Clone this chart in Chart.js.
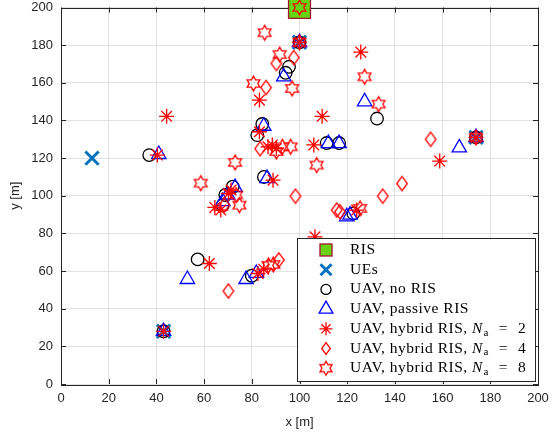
<!DOCTYPE html>
<html>
<head>
<meta charset="utf-8">
<script src="https://cdn.jsdelivr.net/npm/chart.js@4.4.0/dist/chart.umd.min.js"></script>
<style>
  html, body { margin: 0; padding: 0; background: #fff; }
</style>
</head>
<body>
<canvas id="miGrafico" width="552" height="432"></canvas>
<script>
// positions, [x, y] in metres
const risPos = [[100, 200]];
const uePos = [[13, 120], [43, 28], [100, 181.5], [174, 131]];
const uavNoRis = [[37, 121.6], [57.3, 66.2], [80, 57.5], [85.1, 110], [82.3, 132.2], [84.4, 138.1],
  [95.6, 168.5], [94.2, 165.3], [132.5, 141], [72, 104.8], [68.9, 100.4], [67.8, 95],
  [111.4, 128], [116.6, 128], [122.6, 90.6], [100, 181.5], [174, 131], [43, 28]];
const uavPassive = [[41, 122], [53, 55.6], [77.6, 55.6], [81.9, 58.8], [167, 125.5], [127.3, 150],
  [93.4, 163.2], [85, 137], [86.4, 109.2], [112.1, 127.8], [116.6, 127.8], [119.8, 88.9],
  [121.2, 89.8], [73, 104.4], [69.9, 100.4], [67.8, 97], [100, 181.5], [174, 131], [43, 28]];
const uavHyb2 = [[44.3, 142.2], [40.4, 121.6], [64.5, 93.8], [67, 92.4], [62.2, 64], [83.2, 150.8],
  [125.7, 176.3], [109.5, 142.2], [106, 127], [158.8, 118.4], [106.5, 78.2], [88.9, 108.3],
  [83.2, 134], [86.8, 126], [88.6, 127], [90.3, 125.1], [70.2, 101.2], [71.3, 103], [124, 92.4],
  [82.6, 58.7], [85, 61], [100, 181.5], [174, 131], [43, 28]];
const uavHyb4 = [[70.2, 49.4], [91.3, 65.9], [98.3, 99.8], [117, 91.5], [134.9, 99.8], [143, 106.5],
  [155, 130], [83.5, 125], [86, 157.5], [90.3, 170.3], [97.6, 173.4], [68.5, 95], [115.6, 92.4]];
const uavHyb8 = [[100, 200], [85.4, 186.6], [91.7, 175], [80.7, 159.6], [96.9, 157], [127.3, 163.2],
  [133.2, 148.7], [107.2, 116.3], [73, 117.7], [58.6, 106.7], [73.4, 100.4], [74.8, 95],
  [90.3, 123.5], [92.8, 126], [96.3, 126], [125.4, 93.3], [87, 63], [89, 63.5], [100, 181.5], [174, 131]];
const xTicks = [0, 20, 40, 60, 80, 100, 120, 140, 160, 180, 200];
const yTicks = [0, 20, 40, 60, 80, 100, 120, 140, 160, 180, 200];
const legendLabels = ['RIS', 'UEs', 'UAV, no RIS', 'UAV, passive RIS',
  'UAV, hybrid RIS, ', 'UAV, hybrid RIS, ', 'UAV, hybrid RIS, '];
const legendNa = [null, null, null, null, '2', '4', '8'];

const AXC = 'rgb(38,38,38)';
const RED = 'rgb(255,0,0)';

function toPts(arr) { return arr.map(p => ({ x: p[0], y: p[1] })); }

function diamondImg(hw, hh, lw) {
  const c = document.createElement('canvas');
  c.width = Math.ceil(2 * hw + lw + 2); c.height = Math.ceil(2 * hh + lw + 2);
  const g = c.getContext('2d');
  const cx = c.width / 2, cy = c.height / 2;
  g.strokeStyle = RED; g.lineWidth = lw;
  g.beginPath();
  g.moveTo(cx, cy - hh); g.lineTo(cx + hw, cy); g.lineTo(cx, cy + hh); g.lineTo(cx - hw, cy);
  g.closePath(); g.stroke();
  return c;
}

function hexImg(R, lw) {
  const c = document.createElement('canvas');
  c.width = Math.ceil(2 * R + lw + 2); c.height = Math.ceil(2 * R + lw + 2);
  const g = c.getContext('2d');
  const cx = c.width / 2, cy = c.height / 2;
  g.strokeStyle = RED; g.lineWidth = lw;
  g.beginPath();
  for (let i = 0; i < 12; i++) {
    const a = -Math.PI / 2 + i * Math.PI / 6;
    const r = i % 2 ? R / Math.sqrt(3) : R;
    if (i === 0) g.moveTo(cx + r * Math.cos(a), cy + r * Math.sin(a));
    else g.lineTo(cx + r * Math.cos(a), cy + r * Math.sin(a));
  }
  g.closePath(); g.stroke();
  return c;
}

const diamondBig = diamondImg(5.3, 7.2, 1.3);
const hexBig = hexImg(7.4, 1.3);
const diamondSmall = diamondImg(4.3, 5.8, 1.3);
const hexSmall = hexImg(7, 1.3);

const datasets = [
  { label: 'RIS', data: toPts(risPos), pointStyle: 'rect', pointRadius: 15.5,
    backgroundColor: 'rgb(102,212,18)', borderColor: 'rgb(162,20,47)', pointBorderWidth: 1.3, order: 7 },
  { label: 'UEs', data: toPts(uePos), pointStyle: 'crossRot', pointRadius: 9.4,
    borderColor: 'rgb(0,114,189)', pointBorderWidth: 3, order: 6 },
  { label: 'UAV, no RIS', data: toPts(uavNoRis), pointStyle: 'circle', pointRadius: 6.3,
    backgroundColor: 'rgba(0,0,0,0)', borderColor: '#000', pointBorderWidth: 1.3, order: 5 },
  { label: 'UAV, passive RIS', data: toPts(uavPassive), pointStyle: 'triangle', pointRadius: 8.3,
    backgroundColor: 'rgba(0,0,0,0)', borderColor: 'rgb(0,0,255)', pointBorderWidth: 1.3, order: 4 },
  { label: 'Na2', data: toPts(uavHyb2), pointStyle: 'star', pointRadius: 7.5,
    borderColor: RED, pointBorderWidth: 1.3, order: 3 },
  { label: 'Na4', data: toPts(uavHyb4), pointStyle: diamondBig, pointRadius: 7,
    borderColor: RED, order: 2 },
  { label: 'Na8', data: toPts(uavHyb8), pointStyle: hexBig, pointRadius: 7,
    borderColor: RED, order: 1 }
];
datasets.forEach(d => { d.showLine = false; d.clip = false; });

function drawMarker(ctx, i, x, y) {
  ctx.save();
  ctx.lineWidth = 1.3;
  if (i === 0) {
    ctx.fillStyle = 'rgb(102,212,18)'; ctx.strokeStyle = 'rgb(162,20,47)';
    ctx.fillRect(x - 6, y - 6, 12, 12); ctx.strokeRect(x - 6, y - 6, 12, 12);
  } else if (i === 1) {
    ctx.strokeStyle = 'rgb(0,114,189)'; ctx.lineWidth = 3;
    ctx.beginPath(); ctx.moveTo(x - 5.5, y - 5.5); ctx.lineTo(x + 5.5, y + 5.5);
    ctx.moveTo(x + 5.5, y - 5.5); ctx.lineTo(x - 5.5, y + 5.5); ctx.stroke();
  } else if (i === 2) {
    ctx.strokeStyle = '#000';
    ctx.beginPath(); ctx.arc(x, y, 5, 0, Math.PI * 2); ctx.stroke();
  } else if (i === 3) {
    ctx.strokeStyle = 'rgb(0,0,255)';
    const r = 8;
    ctx.beginPath();
    ctx.moveTo(x, y - r); ctx.lineTo(x + r * 0.866, y + r / 2); ctx.lineTo(x - r * 0.866, y + r / 2);
    ctx.closePath(); ctx.stroke();
  } else if (i === 4) {
    ctx.strokeStyle = RED;
    const r = 6.5, d = r * 0.7071;
    ctx.beginPath();
    ctx.moveTo(x, y - r); ctx.lineTo(x, y + r); ctx.moveTo(x - r, y); ctx.lineTo(x + r, y);
    ctx.moveTo(x - d, y - d); ctx.lineTo(x + d, y + d); ctx.moveTo(x + d, y - d); ctx.lineTo(x - d, y + d);
    ctx.stroke();
  } else if (i === 5) {
    ctx.drawImage(diamondSmall, x - diamondSmall.width / 2, y - diamondSmall.height / 2);
  } else {
    ctx.drawImage(hexSmall, x - hexSmall.width / 2, y - hexSmall.height / 2);
  }
  ctx.restore();
}

// matlab style box, inward ticks and the legend
const matlabLook = {
  id: 'matlabLook',
  beforeDatasetsDraw(chart) {
    const { ctx, chartArea: a, scales } = chart;
    ctx.save();
    ctx.strokeStyle = AXC; ctx.lineWidth = 1;
    ctx.strokeRect(Math.round(a.left) + 0.5, Math.round(a.top) + 0.5,
      Math.round(a.right - a.left), Math.round(a.bottom - a.top));
    ctx.beginPath();
    xTicks.forEach(v => {
      const px = Math.round(scales.x.getPixelForValue(v)) + 0.5;
      ctx.moveTo(px, a.bottom); ctx.lineTo(px, a.bottom - 5);
      ctx.moveTo(px, a.top); ctx.lineTo(px, a.top + 5);
    });
    yTicks.forEach(v => {
      const py = Math.round(scales.y.getPixelForValue(v)) + 0.5;
      ctx.moveTo(a.left, py); ctx.lineTo(a.left + 5, py);
      ctx.moveTo(a.right, py); ctx.lineTo(a.right - 5, py);
    });
    ctx.stroke();
    ctx.restore();
  },
  afterDraw(chart) {
    const ctx = chart.ctx;
    const bx = 297.5, by = 238.5, bw = 238, bh = 143;
    ctx.save();
    ctx.fillStyle = '#fff';
    ctx.fillRect(bx, by, bw, bh);
    ctx.strokeStyle = AXC; ctx.lineWidth = 1;
    ctx.strokeRect(bx, by, bw, bh);
    ctx.textBaseline = 'middle';
    ctx.fillStyle = '#000';
    ctx.letterSpacing = '0.5px';
    for (let i = 0; i < legendLabels.length; i++) {
      const y = 250 + i * 19.7;
      drawMarker(ctx, i, 326, y);
      ctx.font = '15.5px "Liberation Serif"';
      let x = 350;
      ctx.fillText(legendLabels[i], x, y);
      if (legendNa[i]) {
        x += ctx.measureText(legendLabels[i]).width;
        ctx.font = 'italic 15.5px "Liberation Serif"';
        ctx.fillText('N', x, y);
        x += ctx.measureText('N').width + 0.5;
        ctx.font = '11px "Liberation Serif"';
        ctx.fillText('a', x, y + 4);
        x += ctx.measureText('a').width + 10;
        ctx.font = '15.5px "Liberation Serif"';
        ctx.fillText('=', x, y);
        x += ctx.measureText('=').width + 10;
        ctx.fillText(legendNa[i], x, y);
      }
    }
    ctx.restore();
  }
};

window.addEventListener('load', () => {
  const ctx = document.querySelector('#miGrafico').getContext('2d');
  const miGrafico = new Chart(ctx, {
    type: 'scatter',
    data: { datasets: datasets },
    options: {
      responsive: false,
      animation: false,
      events: [],
      devicePixelRatio: 1,
      layout: { autoPadding: false, padding: { top: 7.5, right: 14, left: 0, bottom: 0 } },
      plugins: { legend: { display: false }, tooltip: { enabled: false } },
      scales: {
        x: {
          type: 'linear', min: 0, max: 200,
          afterFit: s => { s.height = 48; s.paddingLeft = 0; s.paddingRight = 0; },
          afterBuildTicks: s => { s.ticks = xTicks.map(v => ({ value: v })); },
          ticks: { color: AXC, padding: 7, maxRotation: 0, font: { family: 'Liberation Sans', size: 13 } },
          grid: { color: 'rgb(226,226,226)', drawTicks: false },
          border: { display: false },
          title: { display: true, text: 'x [m]', color: AXC, padding: { top: 0, bottom: 2 },
            font: { family: 'Liberation Sans', size: 13 } }
        },
        y: {
          type: 'linear', min: 0, max: 200,
          afterFit: s => { s.width = 61; s.paddingTop = 0; s.paddingBottom = 0; },
          afterBuildTicks: s => { s.ticks = yTicks.map(v => ({ value: v })); },
          ticks: { color: AXC, padding: 8, font: { family: 'Liberation Sans', size: 13 } },
          grid: { color: 'rgb(226,226,226)', drawTicks: false },
          border: { display: false },
          title: { display: true, text: 'y [m]', color: AXC, padding: { top: 8, bottom: 0 },
            font: { family: 'Liberation Sans', size: 13 } }
        }
      }
    },
    plugins: [matlabLook]
  });
});
</script>
</body>
</html>
